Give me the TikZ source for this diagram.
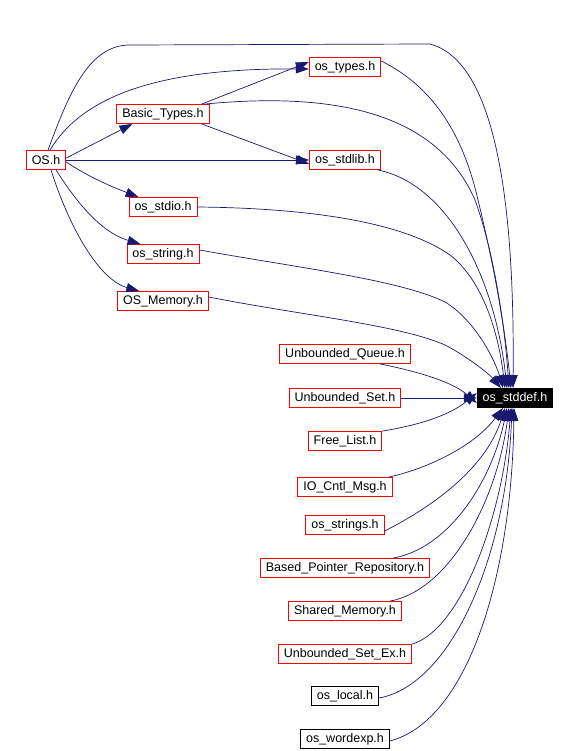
\documentclass[tikz,border=0pt]{standalone}
\usepackage{fontspec}
\setmainfont{Liberation Sans}
\usetikzlibrary{arrows.meta}
\definecolor{edgec}{RGB}{25,25,112}
\tikzset{
  box/.style={draw=red, line width=0.8pt, fill=white, font=\fontsize{12.5}{14}\selectfont, minimum height=19pt, inner xsep=5.5pt, inner ysep=0pt, text=black},
  bbox/.style={box, draw=black},
  sel/.style={box, draw=black, fill=black, text=white},
  e/.style={draw=edgec, line width=0.7pt, -{Triangle[length=13pt,width=9pt]}}
}
\begin{document}
\begin{tikzpicture}[x=1pt,y=-1pt]
\useasboundingbox (0,0) rectangle (577,751);
% nodes
\node[box] (os) at (46,160) {OS.h};
\node[box] (bt) at (163,114) {Basic\_Types.h};
\node[box] (ot) at (345,67) {os\_types.h};
\node[box] (sl) at (345,160) {os\_stdlib.h};
\node[box] (sio) at (163,207) {os\_stdio.h};
\node[box] (str) at (163,254) {os\_string.h};
\node[box] (mem) at (163,301) {OS\_Memory.h};
\node[sel] (sd) at (515,398) {os\_stddef.h};
\node[box] (uq) at (345,354) {Unbounded\_Queue.h};
\node[box] (us) at (345,398) {Unbounded\_Set.h};
\node[box] (fl) at (345,441) {Free\_List.h};
\node[box] (io) at (345,487) {IO\_Cntl\_Msg.h};
\node[box] (strs) at (345,525) {os\_strings.h};
\node[box] (bpr) at (345,568) {Based\_Pointer\_Repository.h};
\node[box] (sm) at (345,611) {Shared\_Memory.h};
\node[box] (use) at (345,654) {Unbounded\_Set\_Ex.h};
\node[bbox] (loc) at (345,696) {os\_local.h};
\node[bbox] (we) at (345,739) {os\_wordexp.h};
% helper coordinates on os_stddef
\coordinate (sdn7) at ([xshift=-14pt]sd.north);
\coordinate (sdn1) at ([xshift=-12pt]sd.north);
\coordinate (sdn2) at ([xshift=-10pt]sd.north);
\coordinate (sdn3) at ([xshift=-8pt]sd.north);
\coordinate (sdn4) at ([xshift=-6pt]sd.north);
\coordinate (sdn5) at ([xshift=-4pt]sd.north);
\coordinate (sdn6) at ([xshift=-2pt]sd.north);
% edges upper part
\draw[e] ([xshift=2pt]os.north) .. controls (70,90) and (90,45) .. (130,45) -- (430,44) .. controls (490,60) and (515,180) .. (sdn6);
\draw[e] ([xshift=4pt]os.north) .. controls (80,100) and (150,68) .. ([yshift=-2pt]ot.west);
\draw[e] ([xshift=-8pt]bt.north east) -- ([yshift=5pt]ot.west);
\draw[e] ([xshift=-5pt]bt.north east) .. controls (350,90) and (440,120) .. (475,200) .. controls (495,255) and (505,330) .. (sdn4);
\draw[e] ([yshift=6pt]ot.east) .. controls (430,85) and (462,130) .. (478,200) .. controls (495,270) and (505,330) .. (sdn5);
\draw[e] ([xshift=-3pt]sl.south east) .. controls (450,185) and (495,280) .. (sdn3);
\draw[e] (os.east) -- (sl.west);
\draw[e] ([xshift=-8pt]bt.south east) -- ([yshift=-4pt]sl.west);
\draw[e] ([yshift=-8pt]os.north east) -- ([xshift=16pt]bt.south west);
\draw[e] ([yshift=8pt]os.south east) .. controls (90,178) and (115,188) .. ([xshift=10pt]sio.north west);
\draw[e] ([xshift=10pt]os.south) .. controls (75,200) and (100,232) .. ([xshift=14pt]str.north west);
\draw[e] ([xshift=5pt]os.south) .. controls (70,230) and (100,280) .. ([xshift=22pt]mem.north west);
\draw[e] (sio.east) .. controls (300,208) and (400,220) .. (450,255) .. controls (482,280) and (498,330) .. (sdn2);
\draw[e] ([yshift=4pt]str.east) .. controls (300,268) and (400,280) .. (445,302) .. controls (475,320) and (495,360) .. (sdn1);
\draw[e] ([yshift=4pt]mem.east) .. controls (300,315) and (400,325) .. (445,345) .. controls (470,358) and (490,375) .. (sdn7);
% edges lower part
\draw[e] ([xshift=35pt]uq.south) .. controls (410,370) and (450,380) .. ([yshift=-5pt]sd.west);
\draw[e] (us.east) -- (sd.west);
\draw[e] ([xshift=37pt]fl.north) .. controls (420,425) and (450,415) .. ([yshift=5pt]sd.west);
\draw[e] ([xshift=-4pt]io.north east) .. controls (430,468) and (475,445) .. ([xshift=-12pt]sd.south);
\draw[e] ([yshift=-6pt]strs.east) .. controls (430,508) and (485,470) .. ([xshift=-10pt]sd.south);
\draw[e] ([xshift=48pt]bpr.north) .. controls (450,548) and (492,480) .. ([xshift=-8pt]sd.south);
\draw[e] ([xshift=45pt]sm.north) .. controls (450,590) and (497,500) .. ([xshift=-6pt]sd.south);
\draw[e] (use.north east) .. controls (460,630) and (502,520) .. ([xshift=-4pt]sd.south);
\draw[e] ([yshift=-2pt]loc.east) .. controls (450,685) and (506,560) .. ([xshift=-3pt]sd.south);
\draw[e] ([yshift=-2pt]we.east) .. controls (470,720) and (512,570) .. ([xshift=-1pt]sd.south);
\end{tikzpicture}
\end{document}
